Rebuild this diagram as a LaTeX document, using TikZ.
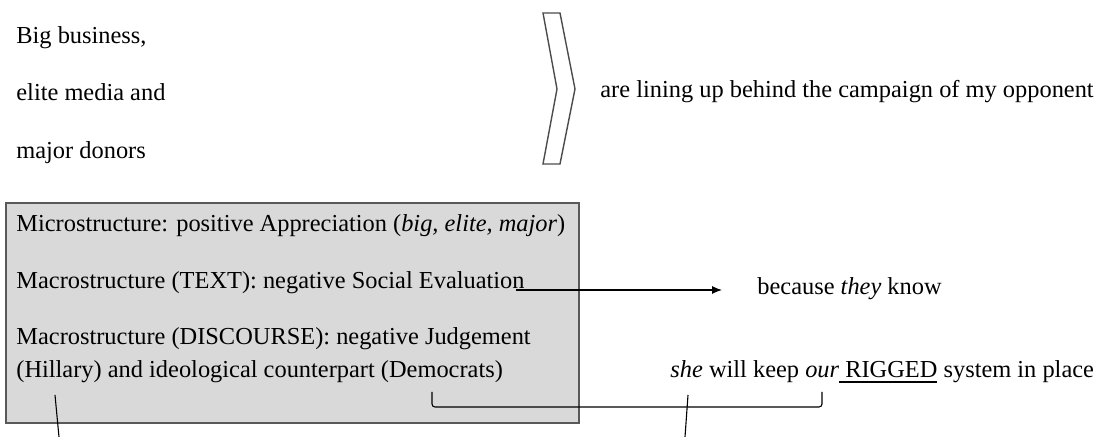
\documentclass[tikz,border=0pt]{standalone}
\usepackage{fontspec}
\setmainfont{Liberation Serif}
\usetikzlibrary{arrows.meta}
\newcommand\thickul[1]{\setbox0\hbox{#1}\rlap{\rule[-2.4pt]{\wd0}{0.9pt}}\box0\relax}
\begin{document}
\begin{tikzpicture}[x=0.5pt,y=-0.5pt,
  every node/.style={font=\fontsize{12.2}{15}\selectfont,inner sep=0pt,anchor=base west},
  link/.style={line width=0.55pt}]
  \useasboundingbox (0,0) rectangle (1102,437);
  % actors
  \node (big) at (16,44) {Big business,};
  \node (media) at (16,101) {elite media and};
  \node (donors) at (16,159) {major donors};
  \draw [black!70,line width=0.7pt,fill=white] (543,13) -- (560,13) -- (575,89) -- (560,164) -- (543,164) -- (557,89) -- cycle;
  \node (lining) at (600,98) {are lining up behind the campaign of my opponent};
  % analysis box
  \draw [black!65,fill=black!15,line width=0.8pt] (6,203) rectangle (579,423);
  \node (micro) at (16,232) {Microstructure: positive Appreciation (\textit{big, elite, major})};
  \node (macrotext) at (16,289) {Macrostructure (TEXT): negative Social Evaluation};
  \node (disc) at (16,345) {Macrostructure (DISCOURSE): negative Judgement};
  \node (hillary) at (16,378) {(Hillary) and ideological counterpart (Democrats)};
  % clauses
  \node (know) at (757,295) {because \textit{they} know};
  \node (she) at (670,378) {\textit{she} will keep \textit{our}\thickul{ RIGGED} system in place};
  % links
  \coordinate (evalend) at (516,290);
  \coordinate (knowtip) at (722,290);
  \draw [link,-{Latex[length=5pt,width=4pt]}] (evalend) -- (knowtip);
  \coordinate (demo) at (432,392);
  \coordinate (ours) at (822,392);
  \draw [link,rounded corners=1.5pt] (demo) -- ++(0,15) -| (ours);
  \coordinate (hil) at (55,395);
  \coordinate (hilcut) at (59,437);
  \draw [link] (hil) -- (hilcut);
  \coordinate (shemark) at (688,395);
  \coordinate (shecut) at (685,437);
  \draw [link] (shemark) -- (shecut);
\end{tikzpicture}
\end{document}
